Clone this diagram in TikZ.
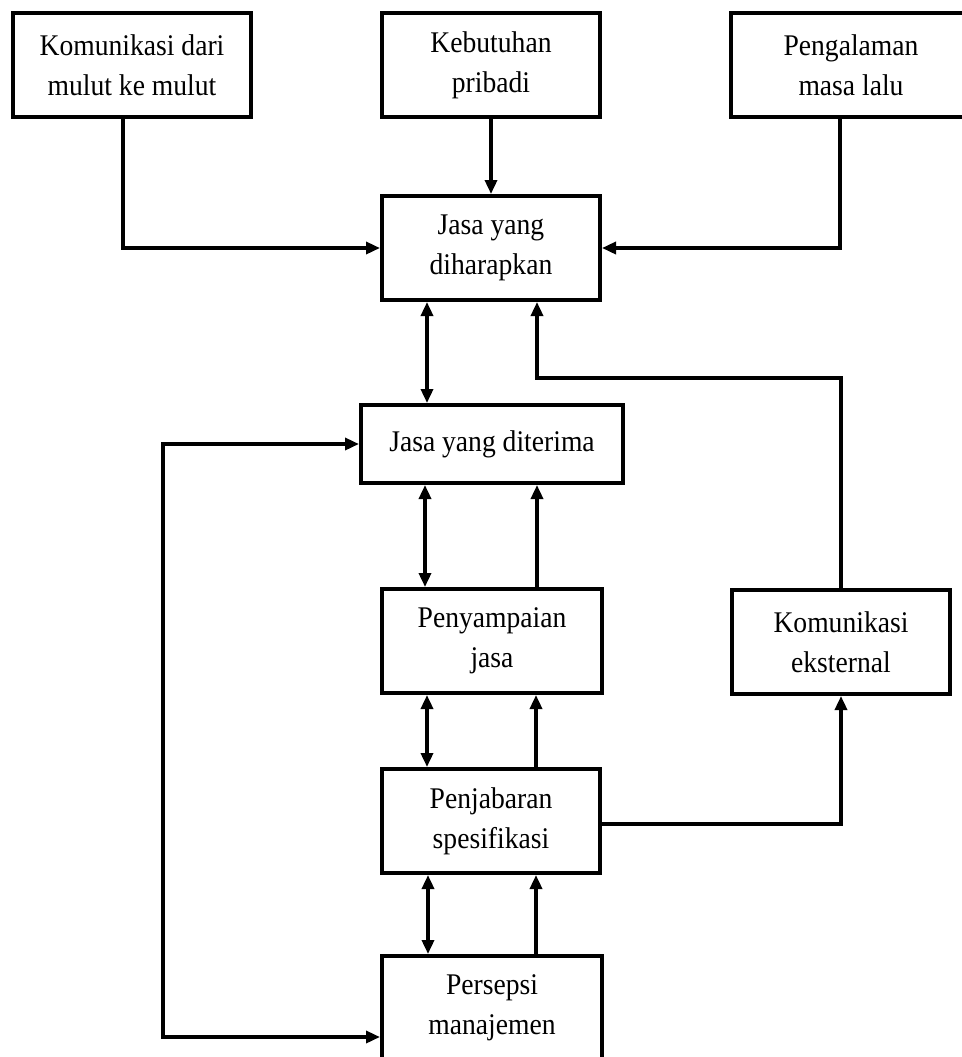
\documentclass[tikz,border=0pt]{standalone}
\usepackage{fontspec}
\setmainfont{Liberation Serif}[FakeStretch=0.92]
\usetikzlibrary{arrows.meta}

\begin{document}
\begin{tikzpicture}[
            x=0.5pt, y=-0.5pt,
            box/.style={draw, line width=2pt, minimum height=52pt, inner sep=0pt,
                align=center, font=\fontsize{15}{20}\selectfont},
            arr/.style={line width=1.7pt, -{Triangle[length=7pt,width=6pt]}},
            darr/.style={line width=1.7pt, {Triangle[length=7pt,width=6pt]}-{Triangle[length=7pt,width=6pt]}},
        ]
            \clip (0,0) rectangle (962,1057);
            % baris atas
            \node[box, minimum width=119pt] (mulut) at (132,65) {Komunikasi dari\\mulut ke mulut};
            \node[box, minimum width=109pt] (butuh) at (491,65) {Kebutuhan\\pribadi};
            \node[box, minimum width=120pt] (alami) at (851,65) {Pengalaman\\masa lalu};
            % kolom tengah
            \node[box, minimum width=109pt] (harap) at (491,248) {Jasa yang\\diharapkan};
            \node[box, minimum width=131pt, minimum height=39pt] (terima) at (492,444) {Jasa yang diterima};
            \node[box, minimum width=110pt] (sampai) at (492,641) {Penyampaian\\jasa};
            \node[box, minimum width=109pt] (eksternal) at (841,642) {Komunikasi\\eksternal};
            \node[box, minimum width=109pt] (jabar) at (491,821) {Penjabaran\\spesifikasi};
            \node[box, minimum width=110pt] (persepsi) at (492,1008) {Persepsi\\manajemen};

            \coordinate (belok) at (537,378);
            \coordinate (sudut) at (163,1037);

            % ke jasa yang diharapkan
            \draw[arr] ([xshift=-4.5pt]mulut.south) |- (harap.west);
            \draw[arr] (butuh) -- (harap);
            \draw[arr] ([xshift=-5.5pt]alami.south) |- (harap.east);
            \draw[arr] (eksternal.north) |- (belok) -- (belok |- harap.south);
            \draw[darr] (427,0 |- harap.south) -- (427,0 |- terima.north);

            % antar kotak tengah
            \draw[darr] (425,0 |- terima.south) -- (425,0 |- sampai.north);
            \draw[arr] (537,0 |- sampai.north) -- (537,0 |- terima.south);
            \draw[darr] (427,0 |- sampai.south) -- (427,0 |- jabar.north);
            \draw[arr] (536,0 |- jabar.north) -- (536,0 |- sampai.south);
            \draw[darr] (428,0 |- jabar.south) -- (428,0 |- persepsi.north);
            \draw[arr] (536,0 |- persepsi.north) -- (536,0 |- jabar.south);

            % kanan dan kiri
            \draw[arr] ([yshift=-1.5pt]jabar.east) -| (eksternal.south);
            \draw[darr] (terima.west) -| (sudut) -- (sudut -| persepsi.west);
        \end{tikzpicture}
\end{document}
